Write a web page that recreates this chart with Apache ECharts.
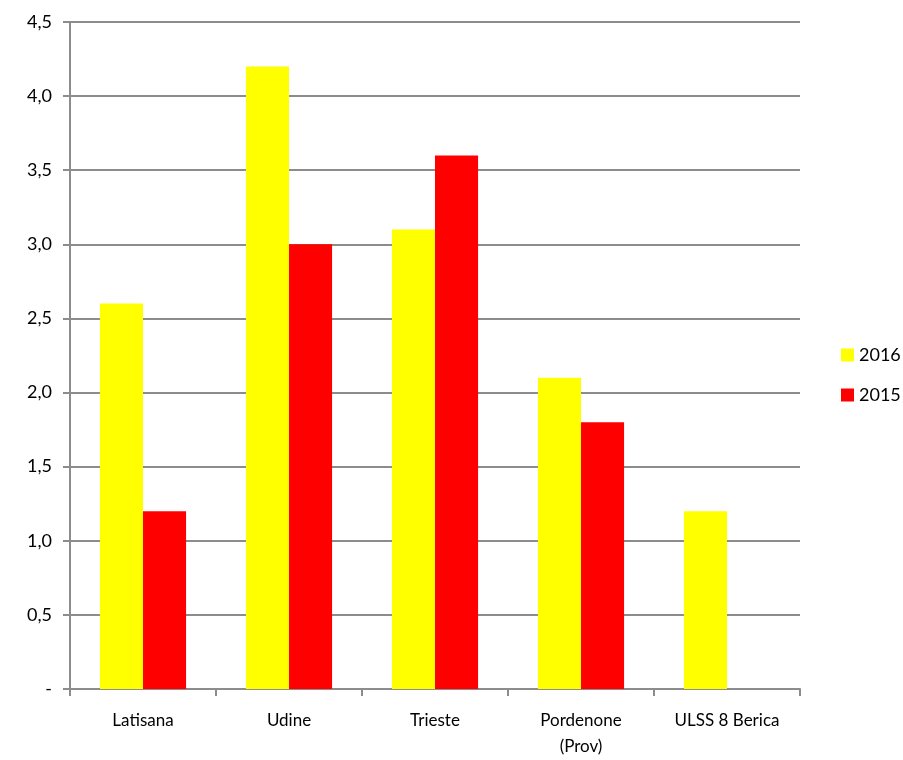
<!DOCTYPE html>
<html>
<head>
<meta charset="utf-8">
<script src="https://cdn.jsdelivr.net/npm/echarts@6/dist/echarts.min.js"></script>
<style>
  html, body { margin: 0; padding: 0; background: #fff; }
  #chart { width: 903px; height: 760px; }
</style>
</head>
<body>
<div id="chart"></div>
<script>
// Categories and values per year
const categories = ['Latisana', 'Udine', 'Trieste', 'Pordenone\n(Prov)', 'ULSS 8 Berica'];
const values2016 = [2.6, 4.2, 3.1, 2.1, 1.2];
const values2015 = [1.2, 3.0, 3.6, 1.8, null];
const yTicks = { min: 0, max: 4.5, interval: 0.5 };

const font = 'Lato, "Open Sans", sans-serif';
const gray = '#8c8c8c';

const chart = echarts.init(document.getElementById('chart'));
chart.setOption({
  animation: false,
  textStyle: { fontFamily: font },
  grid: { left: 70, right: 103, top: 22, bottom: 70, containLabel: false },
  legend: {
    orient: 'vertical',
    left: 836,
    top: 341,
    itemWidth: 13,
    itemHeight: 13,
    itemGap: 22,
    icon: 'rect',
    textStyle: { fontSize: 18, color: '#000', fontFamily: font },
    data: ['2016', '2015']
  },
  xAxis: {
    type: 'category',
    data: categories,
    axisLine: { lineStyle: { color: gray, width: 2 } },
    axisTick: { show: true, length: 7, lineStyle: { color: gray, width: 2 } },
    axisLabel: { color: '#000', fontSize: 17, margin: 19, lineHeight: 26, fontFamily: font }
  },
  yAxis: {
    type: 'value',
    min: yTicks.min,
    max: yTicks.max,
    interval: yTicks.interval,
    axisLine: { show: true, lineStyle: { color: gray, width: 2 } },
    axisTick: { show: true, length: 7, lineStyle: { color: gray, width: 2 } },
    splitLine: { lineStyle: { color: gray, width: 2 } },
    axisLabel: {
      color: '#000', fontSize: 18, margin: 18, fontFamily: font,
      formatter: v => v === 0 ? '-' : v.toFixed(1).replace('.', ',')
    }
  },
  series: [
    { name: '2016', type: 'bar', data: values2016, itemStyle: { color: '#ffff00' }, barGap: '0%', barCategoryGap: '41%' },
    { name: '2015', type: 'bar', data: values2015, itemStyle: { color: '#ff0000' }, barGap: '0%', barCategoryGap: '41%' }
  ]
});
</script>
</body>
</html>
